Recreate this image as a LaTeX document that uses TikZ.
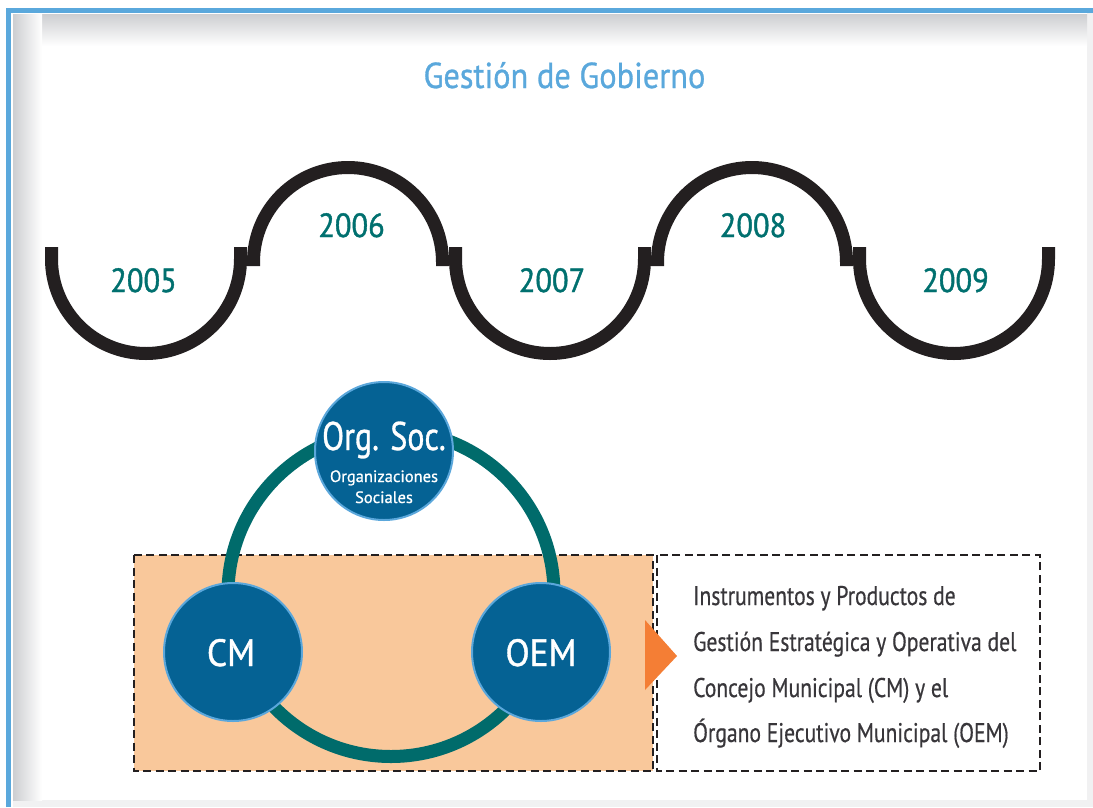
\documentclass[tikz,border=0pt]{standalone}
\usepackage{fontspec}
\setmainfont{PT Sans}
\newfontfamily\titlefont[FakeStretch=0.9,FakeBold=0.8]{PT Sans}
\newfontfamily\yrfont[FakeStretch=0.91,FakeBold=1.2]{PT Sans}
\newfontfamily\condfont[FakeStretch=0.8,FakeBold=0.8]{PT Sans}
\newfontfamily\cmfont[FakeStretch=0.93,FakeBold=1]{PT Sans}
\newfontfamily\smallfont[FakeBold=0.8]{PT Sans}
\newfontfamily\boxfont[FakeStretch=0.8,FakeBold=0.5]{PT Sans}
\definecolor{frameblue}{HTML}{5AA8DC}
\definecolor{shadowgray}{HTML}{CDCED1}
\definecolor{edgegray}{HTML}{F1F1F2}
\definecolor{yearteal}{HTML}{00706F}
\definecolor{ringteal}{HTML}{006B6B}
\definecolor{arcblack}{HTML}{231F20}
\definecolor{nodeblue}{HTML}{056294}
\definecolor{nodeedge}{HTML}{5BA7DB}
\definecolor{boxorange}{HTML}{F9C89B}
\definecolor{arrorange}{HTML}{F47E35}
\definecolor{textgray}{HTML}{38363A}
\tikzset{
  tl/.style={draw=arcblack, line width=13pt},
  yr/.style={anchor=base, inner sep=0pt, text=yearteal, font=\yrfont\fontsize{33.5}{36}\selectfont},
  bub/.style={circle, fill=nodeblue, draw=nodeedge, line width=2pt, minimum size=138pt, inner sep=0pt},
  bubtxt/.style={anchor=base, inner sep=0pt, text=white},
  dashbox/.style={draw=arcblack, line width=2.6pt, dash pattern=on 8pt off 4.5pt},
  ring/.style={draw=ringteal, line width=13pt},
  boxline/.style={anchor=base west, inner sep=0pt, text=textgray, font=\boxfont\fontsize{27}{30}\selectfont}
}
\begin{document}
\begin{tikzpicture}[x=1pt,y=-1pt]
\useasboundingbox (0,0) rectangle (1093,807);
% frame
\fill[white] (0,0) rectangle (1093,807);
\fill[edgegray] (1087,13) rectangle (1093,807);
\fill[edgegray] (13,800) rectangle (1093,807);
\shade[top color=shadowgray, bottom color=white] (13,14) rectangle (1087,46);
\shade[left color=shadowgray, right color=white] (13,14) rectangle (42,800);
\draw[frameblue, line width=5pt] (8.5,807) -- (8.5,10.5) -- (1093,10.5);
% title
\node[anchor=base, inner sep=0pt, text=frameblue, font=\titlefont\fontsize{36}{40}\selectfont] (title) at (564.5,88) {Gestión de Gobierno};
% timeline
\foreach \cx in {146,550,954}{
  \draw[tl] (\cx-94.5,247) -- (\cx-94.5,259) arc[start angle=180,end angle=0,radius=94.5] -- (\cx+94.5,247);
}
\foreach \cx in {348,752}{
  \draw[tl] (\cx-94.5,266) -- (\cx-94.5,262) arc[start angle=180,end angle=360,radius=94.5] -- (\cx+94.5,266);
}
\node[yr] (y2005) at (143.5,292) {2005};
\node[yr] (y2006) at (351.5,237) {2006};
\node[yr] (y2007) at (552,292) {2007};
\node[yr] (y2008) at (753,237) {2008};
\node[yr] (y2009) at (955.5,292) {2009};
% boxes
\filldraw[fill=boxorange, dashbox] (134,555) rectangle (653,771);
\filldraw[fill=white, dashbox] (657,555) rectangle (1040,771);
% ring
\coordinate (ringc) at (391,593.5);
\draw[ring] (ringc) circle[radius=163];
% circles
\node[bub] (org) at (384,451) {};
\node[bub] (cm) at (233,652) {};
\node[bub] (oem) at (541,652) {};
\node[bubtxt, font=\condfont\fontsize{40}{44}\selectfont] (orgt) at (384,450) {Org. Soc.};
\node[bubtxt, font=\smallfont\fontsize{16.5}{20}\selectfont] (orgs1) at (384,482) {Organizaciones};
\node[bubtxt, font=\smallfont\fontsize{16.5}{20}\selectfont] (orgs2) at (384,503) {Sociales};
\node[bubtxt, font=\cmfont\fontsize{38}{42}\selectfont] (cmt) at (231,666) {CM};
\node[bubtxt, font=\cmfont\fontsize{38}{42}\selectfont] (oemt) at (541,666) {OEM};
% arrow
\fill[arrorange] (645,620) -- (645,690) -- (677,656) -- cycle;
% text
\node[boxline] (l1) at (693,605) {Instrumentos y Productos de};
\node[boxline] (l2) at (693,651) {Gestión Estratégica y Operativa del};
\node[boxline] (l3) at (693,697) {Concejo Municipal (CM) y el};
\node[boxline] (l4) at (693,742) {Órgano Ejecutivo Municipal (OEM)};
\end{tikzpicture}
\end{document}
